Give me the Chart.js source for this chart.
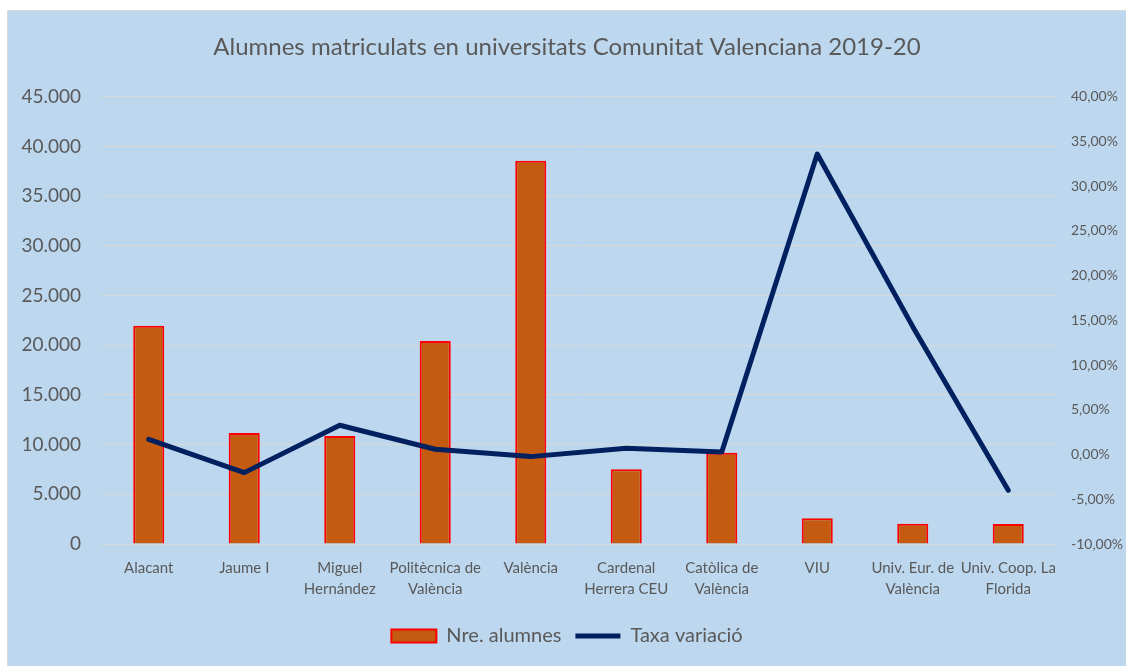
<!DOCTYPE html>
<html>
<head>
<meta charset="utf-8">
<script src="https://cdn.jsdelivr.net/npm/chart.js@4"></script>
<style>
  html, body { margin: 0; padding: 0; background: #fff; }
  #box {
    position: absolute; left: 7px; top: 10px;
    width: 1118px; height: 660px;
    background: #BDD7EE;
    border: 1px solid #D9D9D9;
  }
  #wrap { position: absolute; left: 0; top: 0; width: 1118px; height: 645px; }
</style>
</head>
<body>
<div id="box"><div id="wrap"><canvas id="chart"></canvas></div></div>
<script>
const categories = [
    'Alacant', 'Jaume I', ['Miguel', 'Hernández'], ['Politècnica de', 'València'], 'València',
    ['Cardenal', 'Herrera CEU'], ['Catòlica de', 'València'], 'VIU', ['Univ. Eur. de', 'València'],
    ['Univ. Coop. La', 'Florida']
];
const alumnes = [21950, 11170, 10880, 20430, 38560, 7520, 9190, 2590, 2040, 2000];
const taxaVariacio = [1.71, -2.02, 3.28, 0.59, -0.23, 0.70, 0.29, 33.6, 14.3, -4.0]; // en %
const leftTicks = [0, 5000, 10000, 15000, 20000, 25000, 30000, 35000, 40000, 45000];
const rightTicks = [-10, -5, 0, 5, 10, 15, 20, 25, 30, 35, 40];

const FONT = 'Lato, Carlito, "Open Sans", sans-serif';
const TEXT = '#595959';

const fmtMiles = v => String(v).replace(/\B(?=(\d{3})+(?!\d))/g, '.');
const fmtPct = v => v.toFixed(2).replace('.', ',') + '%';

new Chart(document.getElementById('chart'), {
    data: {
        labels: categories,
        datasets: [{
            type: 'bar',
            label: 'Nre. alumnes',
            data: alumnes,
            backgroundColor: '#C55A11',
            borderColor: '#FF0000',
            borderWidth: 2,
            barPercentage: 0.325,
            categoryPercentage: 1,
            pointStyle: 'rect',
            yAxisID: 'y',
            order: 1
        }, {
            type: 'line',
            label: 'Taxa variació',
            data: taxaVariacio,
            borderColor: '#002060',
            backgroundColor: '#002060',
            borderWidth: 5,
            borderCapStyle: 'round',
            borderJoinStyle: 'round',
            pointRadius: 0,
            pointStyle: 'line',
            tension: 0,
            yAxisID: 'y1',
            order: 0
        }]
    },
    options: {
        responsive: true,
        maintainAspectRatio: false,
        animation: false,
        plugins: {
            title: {
                display: true,
                text: 'Alumnes matriculats en universitats Comunitat Valenciana 2019-20',
                color: TEXT,
                font: { family: FONT, size: 24, weight: 'normal' },
                padding: { top: 22, bottom: 35 }
            },
            legend: {
                position: 'bottom',
                labels: {
                    color: TEXT,
                    font: { family: FONT, size: 20 },
                    usePointStyle: true,
                    pointStyleWidth: 45,
                    boxHeight: 13,
                    padding: 14,
                    sort: (a, b) => a.datasetIndex - b.datasetIndex
                }
            },
            tooltip: { enabled: false }
        },
        scales: {
            x: {
                grid: { display: false },
                border: { display: false },
                ticks: {
                    color: TEXT,
                    font: { family: FONT, size: 15, lineHeight: 1.4 },
                    padding: 6,
                    maxRotation: 0,
                    autoSkip: false
                },
                afterFit: s => { s.height = 68; }
            },
            y: {
                position: 'left',
                min: 0, max: 45000,
                afterBuildTicks: s => { s.ticks = leftTicks.map(v => ({ value: v })); },
                grid: { color: '#D9D9D9', lineWidth: 1, drawTicks: false },
                border: { display: false },
                ticks: {
                    color: TEXT,
                    font: { family: FONT, size: 19 },
                    padding: 20,
                    callback: v => fmtMiles(v)
                },
                afterFit: s => { s.width = 93; }
            },
            y1: {
                position: 'right',
                min: -10, max: 40,
                afterBuildTicks: s => { s.ticks = rightTicks.map(v => ({ value: v })); },
                grid: { display: false, drawTicks: false },
                border: { display: false },
                ticks: {
                    color: TEXT,
                    font: { family: FONT, size: 14 },
                    padding: 15,
                    callback: v => fmtPct(v)
                },
                afterFit: s => { s.width = 70; }
            }
        }
    }
});
</script>
</body>
</html>
